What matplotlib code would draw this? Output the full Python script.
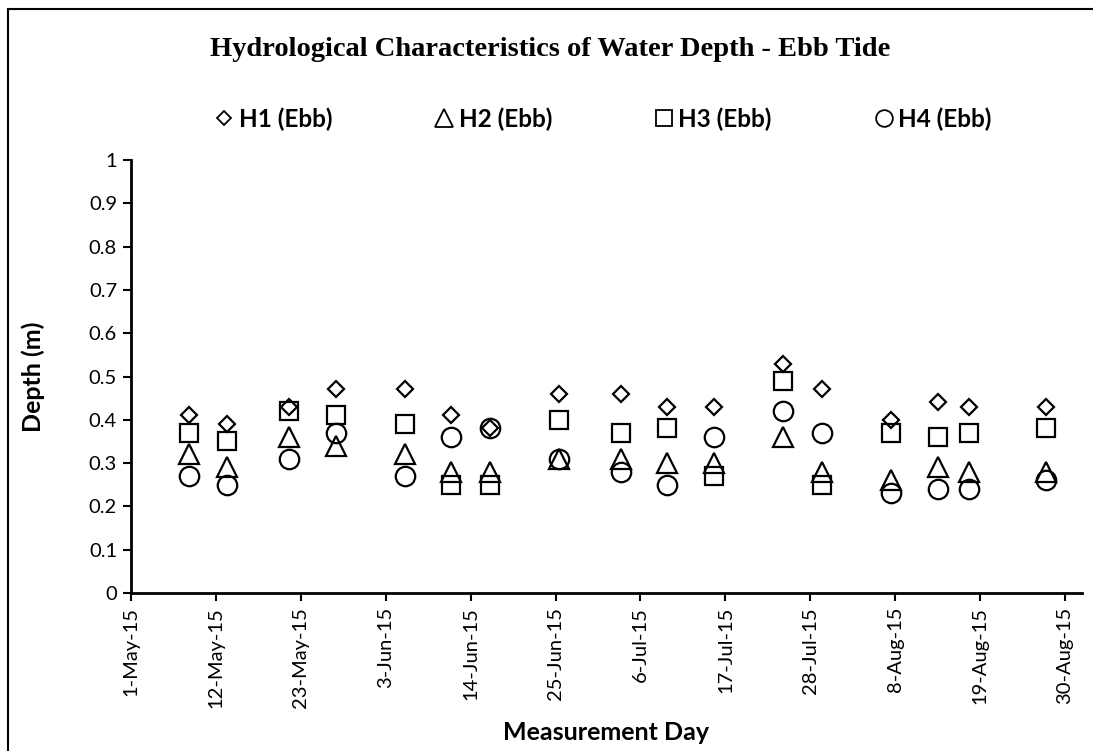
import matplotlib
matplotlib.use("Agg")
import matplotlib.pyplot as plt
import matplotlib.dates as mdates
from matplotlib.lines import Line2D
from matplotlib.patches import Rectangle
import datetime as dt

# ---- data ----
dates = ["2015-05-08", "2015-05-13", "2015-05-21", "2015-05-27", "2015-06-05",
         "2015-06-11", "2015-06-16", "2015-06-25", "2015-07-03", "2015-07-09",
         "2015-07-15", "2015-07-24", "2015-07-29", "2015-08-07", "2015-08-13",
         "2015-08-17", "2015-08-27"]
h1 = [0.41, 0.39, 0.43, 0.47, 0.47, 0.41, 0.38, 0.46, 0.46, 0.43, 0.43, 0.53, 0.47, 0.40, 0.44, 0.43, 0.43]
h2 = [0.32, 0.29, 0.36, 0.34, 0.32, 0.28, 0.28, 0.31, 0.31, 0.30, 0.30, 0.36, 0.28, 0.26, 0.29, 0.28, 0.28]
h3 = [0.37, 0.35, 0.42, 0.41, 0.39, 0.25, 0.25, 0.40, 0.37, 0.38, 0.27, 0.49, 0.25, 0.37, 0.36, 0.37, 0.38]
h4 = [0.27, 0.25, 0.31, 0.37, 0.27, 0.36, 0.38, 0.31, 0.28, 0.25, 0.36, 0.42, 0.37, 0.23, 0.24, 0.24, 0.26]
series_labels = ["H1 (Ebb)", "H2 (Ebb)", "H3 (Ebb)", "H4 (Ebb)"]
tick_dates = ["2015-05-01", "2015-05-12", "2015-05-23", "2015-06-03", "2015-06-14",
              "2015-06-25", "2015-07-06", "2015-07-17", "2015-07-28", "2015-08-08",
              "2015-08-19", "2015-08-30"]
tick_labels = ["1-May-15", "12-May-15", "23-May-15", "3-Jun-15", "14-Jun-15",
               "25-Jun-15", "6-Jul-15", "17-Jul-15", "28-Jul-15", "8-Aug-15",
               "19-Aug-15", "30-Aug-15"]
y_ticks = [0, 0.1, 0.2, 0.3, 0.4, 0.5, 0.6, 0.7, 0.8, 0.9, 1]
y_tick_labels = ["0", "0.1", "0.2", "0.3", "0.4", "0.5", "0.6", "0.7", "0.8", "0.9", "1"]

SANS = ["Lato", "DejaVu Sans"]
plt.rcParams['font.family'] = SANS

W, H = 1093, 751
fig = plt.figure(figsize=(W / 100, H / 100), dpi=100)
fig.patch.set_facecolor("white")

# outer chart border (extends past right/bottom edge as in reference)
fig.add_artist(Rectangle((8 / W, -0.05), 1.2, 1 - 9 / H + 0.05, transform=fig.transFigure,
                         fill=False, edgecolor="black", linewidth=1.5))

ax = fig.add_axes([131 / W, 1 - 593 / H, (1082 - 131) / W, (593 - 160) / H])

x = [mdates.date2num(dt.datetime.strptime(d, "%Y-%m-%d")) for d in dates]
xt = [mdates.date2num(dt.datetime.strptime(d, "%Y-%m-%d")) for d in tick_dates]
half = 0.5  # Excel places each date in the middle of its day slot

styles = [
    dict(marker="D", ms=8.6, lms=7.0),
    dict(marker="^", ms=14, lms=13),
    dict(marker="s", ms=13.5, lms=11),
    dict(marker="o", ms=14, lms=12),
]
for vals, st, lab in zip([h1, h2, h3, h4], styles, series_labels):
    ax.plot(x, vals, linestyle="none", marker=st["marker"], ms=st["ms"],
            mfc="none", mec="black", mew=1.6, label=lab)

ax.set_xlim(xt[0] - half, xt[0] - half + 123.2)
ax.set_ylim(0, 1)
ax.set_xticks([v - half for v in xt])
ax.set_xticklabels(tick_labels, rotation=90, fontsize=14.5)
ax.set_yticks(y_ticks)
ax.set_yticklabels(y_tick_labels, fontsize=14.5)
for s in ["top", "right"]:
    ax.spines[s].set_visible(False)
for s in ["left", "bottom"]:
    ax.spines[s].set_linewidth(2)
ax.tick_params(axis="both", direction="out", length=6, width=1.5, pad=4)

fig.text(33 / W, 1 - 377 / H, "Depth (m)", rotation=90, ha="center", va="center",
         fontsize=18, fontweight="bold")
fig.text(606 / W, 1 - 733 / H, "Measurement Day", ha="center", va="center",
         fontsize=18, fontweight="bold")
fig.text(550 / W, 1 - 50 / H, "Hydrological Characteristics of Water Depth - Ebb Tide",
         ha="center", va="center", fontsize=20.5, fontweight="bold",
         family=["Liberation Serif", "DejaVu Serif"])

handles = [Line2D([], [], linestyle="none", marker=st["marker"], ms=st["lms"],
                  mfc="none", mec="black", mew=1.3) for st in styles]
fig.legend(handles, series_labels, loc="center", bbox_to_anchor=(603 / W, 1 - 119 / H),
           ncol=4, frameon=False, handlelength=0.8, handletextpad=0.2,
           columnspacing=4.2, prop=dict(family=SANS, weight="bold", size=17.5))

fig.savefig("out.png", dpi=100)
